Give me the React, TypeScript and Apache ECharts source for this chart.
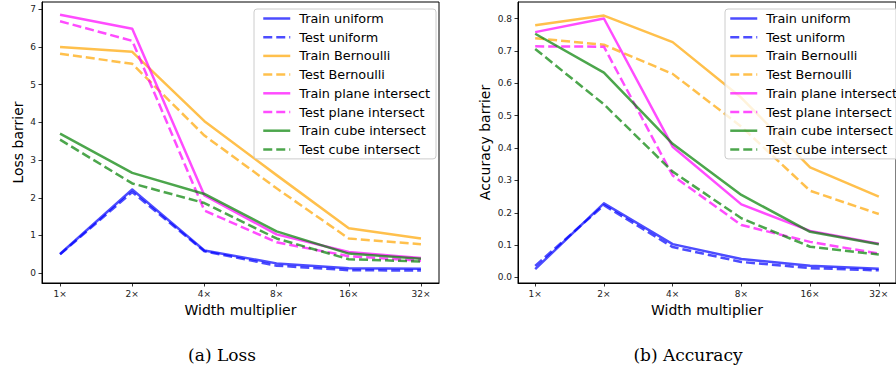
import React, { useEffect, useRef } from "react";
import * as echarts from "echarts";

const widthTicks = ["1×", "2×", "4×", "8×", "16×", "32×"];
const seriesNames = [
  "Train uniform",
  "Test uniform",
  "Train Bernoulli",
  "Test Bernoulli",
  "Train plane intersect",
  "Test plane intersect",
  "Train cube intersect",
  "Test cube intersect",
];
const lossTicks = [0, 1, 2, 3, 4, 5, 6, 7];
const accTicks = [0, 0.1, 0.2, 0.3, 0.4, 0.5, 0.6, 0.7, 0.8];

// Loss barrier
const trainUniformLoss = [0.51, 2.22, 0.6, 0.26, 0.13, 0.12];
const testUniformLoss = [0.5, 2.15, 0.58, 0.2, 0.08, 0.07];
const trainBernoulliLoss = [6.0, 5.87, 4.03, 2.6, 1.19, 0.92];
const testBernoulliLoss = [5.82, 5.55, 3.65, 2.25, 0.92, 0.77];
const trainPlaneLoss = [6.85, 6.48, 2.06, 1.03, 0.56, 0.4];
const testPlaneLoss = [6.68, 6.16, 1.66, 0.82, 0.45, 0.33];
const trainCubeLoss = [3.7, 2.66, 2.1, 1.11, 0.52, 0.38];
const testCubeLoss = [3.54, 2.38, 1.86, 0.92, 0.37, 0.31];

// Accuracy barrier
const trainUniformAcc = [0.026, 0.229, 0.103, 0.057, 0.036, 0.027];
const testUniformAcc = [0.036, 0.223, 0.094, 0.048, 0.029, 0.022];
const trainBernoulliAcc = [0.779, 0.809, 0.727, 0.555, 0.34, 0.25];
const testBernoulliAcc = [0.739, 0.719, 0.629, 0.466, 0.268, 0.196];
const trainPlaneAcc = [0.758, 0.8, 0.404, 0.226, 0.144, 0.104];
const testPlaneAcc = [0.714, 0.713, 0.315, 0.162, 0.11, 0.074];
const trainCubeAcc = [0.753, 0.633, 0.413, 0.255, 0.141, 0.103];
const testCubeAcc = [0.706, 0.535, 0.327, 0.183, 0.095, 0.071];

const lossData = [
  trainUniformLoss,
  testUniformLoss,
  trainBernoulliLoss,
  testBernoulliLoss,
  trainPlaneLoss,
  testPlaneLoss,
  trainCubeLoss,
  testCubeLoss,
];
const accData = [
  trainUniformAcc,
  testUniformAcc,
  trainBernoulliAcc,
  testBernoulliAcc,
  trainPlaneAcc,
  testPlaneAcc,
  trainCubeAcc,
  testCubeAcc,
];

const colors = [
  "rgba(0,0,255,0.7)",
  "rgba(0,0,255,0.7)",
  "rgba(255,165,0,0.7)",
  "rgba(255,165,0,0.7)",
  "rgba(255,0,255,0.7)",
  "rgba(255,0,255,0.7)",
  "rgba(0,128,0,0.7)",
  "rgba(0,128,0,0.7)",
];

const FONT = "DejaVu Sans";
const LW = 2.5;
const DASH = [9, 4];

function makeSeries(data: number[][], gridIndex: number) {
  return data.map((vals, i) => ({
    type: "line",
    name: seriesNames[i],
    xAxisIndex: gridIndex,
    yAxisIndex: gridIndex,
    data: vals.map((v, j) => [j, v]),
    symbol: "none",
    showSymbol: false,
    silent: true,
    z: 2 + i * 0.01,
    lineStyle: {
      color: colors[i],
      width: LW,
      type: i % 2 === 1 ? DASH : "solid",
      cap: "butt",
      join: "round",
    },
    itemStyle: { color: colors[i] },
  }));
}

const xIdx = widthTicks.map((_, i) => i);

function makeXAxis(gridIndex: number) {
  return {
    type: "value",
    gridIndex,
    min: -0.25,
    max: 5.25,
    axisLine: { show: true, onZero: false, lineStyle: { color: "#000", width: 1 } },
    axisTick: {
      show: true,
      customValues: xIdx,
      length: 3.5,
      lineStyle: { color: "#000", width: 0.8 },
    },
    axisLabel: {
      customValues: xIdx,
      formatter: (v: number) => widthTicks[Math.round(v)] ?? "",
      fontSize: 9,
      fontFamily: FONT,
      color: "#222",
      margin: 6,
    },
    splitLine: { show: false },
    name: "Width multiplier",
    nameLocation: "middle",
    nameGap: 18,
    nameTextStyle: { fontSize: 14, fontFamily: FONT, color: "#000" },
  };
}

function makeYAxis(
  gridIndex: number,
  min: number,
  max: number,
  ticks: number[],
  name: string,
  fmt: (v: number) => string,
  nameGap: number
) {
  return {
    type: "value",
    gridIndex,
    min,
    max,
    axisLine: { show: true, onZero: false, lineStyle: { color: "#000", width: 1 } },
    axisTick: {
      show: true,
      customValues: ticks,
      length: 3.5,
      lineStyle: { color: "#000", width: 0.8 },
    },
    axisLabel: {
      customValues: ticks,
      formatter: fmt,
      fontSize: 9,
      fontFamily: FONT,
      color: "#222",
      margin: 6,
    },
    splitLine: { show: false },
    name,
    nameLocation: "middle",
    nameGap,
    nameRotate: 90,
    nameTextStyle: { fontSize: 14, fontFamily: FONT, color: "#000" },
  };
}

function makeLegend(left: number, padLeft: number) {
  return {
    data: seriesNames,
    orient: "vertical",
    left,
    top: 9,
    itemWidth: 27,
    itemHeight: 14,
    itemGap: 5.7,
    padding: [3, 6, 3, padLeft],
    backgroundColor: "rgba(255,255,255,0.8)",
    borderColor: "#cccccc",
    borderWidth: 1,
    borderRadius: 3,
    selectedMode: false,
    itemStyle: {
      color: "transparent",
      borderColor: "transparent",
      borderWidth: 0,
      opacity: 0,
    },
    textStyle: {
      fontSize: 12.8,
      fontFamily: FONT,
      color: "#000",
      padding: [0, 0, 0, 4],
    },
    lineStyle: { width: LW },
    z: 10,
  };
}

export default function App() {
  const ref = useRef<HTMLDivElement>(null);
  useEffect(() => {
    document.body.style.margin = "0";
    const chart = echarts.init(ref.current!, null, { renderer: "svg" });
    const option: any = {
      animation: false,
      textStyle: { fontFamily: FONT },
      grid: [
        {
          left: 42,
          top: 2,
          width: 397,
          height: 281,
          show: true,
          borderColor: "#000",
          borderWidth: 1,
          backgroundColor: "transparent",
        },
        {
          left: 518,
          top: 2,
          width: 389,
          height: 281,
          show: true,
          borderColor: "#000",
          borderWidth: 1,
          backgroundColor: "transparent",
        },
      ],
      xAxis: [makeXAxis(0), makeXAxis(1)],
      yAxis: [
        makeYAxis(0, -0.26, 7.19, lossTicks, "Loss barrier", (v) => String(Math.round(v)), 17),
        makeYAxis(1, -0.017, 0.851, accTicks, "Accuracy barrier", (v) => v.toFixed(1), 26),
      ],
      legend: [makeLegend(254, 8), makeLegend(725, 4)],
      series: [...makeSeries(lossData, 0), ...makeSeries(accData, 1)],
      graphic: [
        {
          type: "text",
          x: 222,
          y: 355,
          style: {
            text: "(a) Loss",
            font: "17px 'DejaVu Serif'",
            fill: "#000",
            textAlign: "center",
            textVerticalAlign: "middle",
          },
        },
        {
          type: "text",
          x: 688,
          y: 355,
          style: {
            text: "(b) Accuracy",
            font: "17px 'DejaVu Serif'",
            fill: "#000",
            textAlign: "center",
            textVerticalAlign: "middle",
          },
        },
      ],
    };
    chart.setOption(option);
    return () => chart.dispose();
  }, []);
  return (
    <div
      ref={ref}
      style={{ width: 896, height: 373, position: "absolute", left: 0, top: 0 }}
    />
  );
}
